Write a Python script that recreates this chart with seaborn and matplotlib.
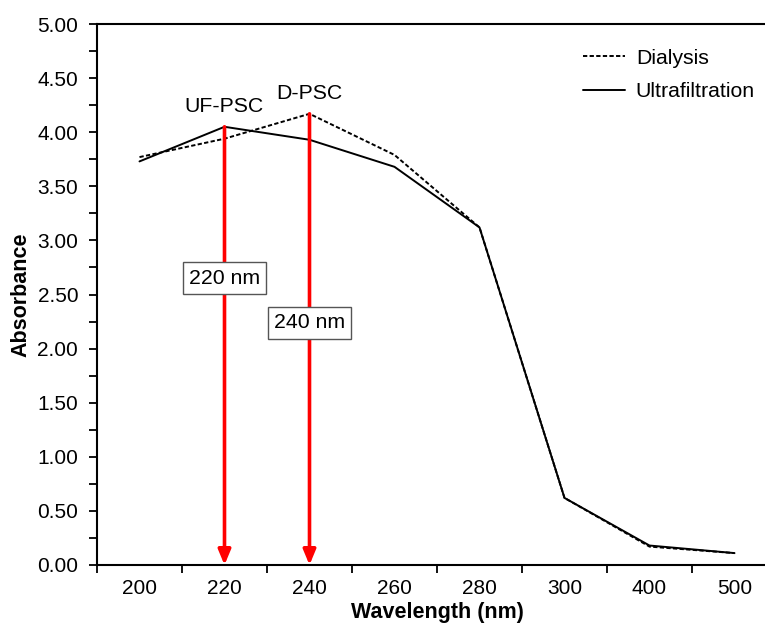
import pandas as pd
import matplotlib.pyplot as plt
import seaborn as sns

# wavelength categories (evenly spaced category axis) and absorbance per method
wavelengths = ["200", "220", "240", "260", "280", "300", "400", "500"]
dialysis = [3.77, 3.94, 4.17, 3.79, 3.12, 0.62, 0.17, 0.11]
ultrafiltration = [3.73, 4.05, 3.93, 3.68, 3.12, 0.62, 0.18, 0.11]

# peak markers: label, wavelength, box text, box height
peaks = [("UF-PSC", "220", "220 nm", 2.65, ultrafiltration),
         ("D-PSC", "240", "240 nm", 2.24, dialysis)]

sns.set_style("ticks")
plt.rcParams['font.family'] = ['Liberation Sans', 'DejaVu Sans']
plt.rcParams['font.size'] = 15
plt.rcParams.update({'text.color': 'black', 'axes.labelcolor': 'black',
                     'xtick.color': 'black', 'ytick.color': 'black'})

pos = list(range(len(wavelengths)))
df = pd.DataFrame({
    'pos': pos * 2,
    'Absorbance': dialysis + ultrafiltration,
    'Method': ['Dialysis'] * len(pos) + ['Ultrafiltration'] * len(pos),
})

fig = plt.figure(figsize=(7.65, 6.28), dpi=100)
ax = fig.add_axes([97 / 765, 63 / 628, 680 / 765, 541 / 628])

sns.lineplot(data=df, x='pos', y='Absorbance', hue='Method', style='Method',
             palette={'Dialysis': 'black', 'Ultrafiltration': 'black'},
             dashes={'Dialysis': (2.2, 1.2), 'Ultrafiltration': ''},
             linewidth=1.4, ax=ax)

# red arrows pointing at the peak wavelengths
for name, wl, box, ybox, series in peaks:
    i = wavelengths.index(wl)
    top = series[i]
    ax.annotate('', xy=(i, 0.0), xytext=(i, top),
                arrowprops=dict(arrowstyle='-|>,head_width=0.25,head_length=0.6',
                                color='#ff0000', lw=2.6, shrinkA=0, shrinkB=0))
    ax.text(i, top + 0.1, name, ha='center', va='bottom', fontsize=15.3)
    ax.text(i, ybox, box, ha='center', va='center', fontsize=15.3,
            bbox=dict(boxstyle='square,pad=0.3', facecolor='white',
                      edgecolor='#555555', linewidth=1))

ax.set_xlim(-0.5, len(wavelengths) - 0.5)
ax.set_ylim(0, 5)
ax.set_xticks([p - 0.5 for p in pos] + [len(pos) - 0.5])
ax.set_xticklabels([])
ax.set_xticks(pos, minor=True)
ax.set_xticklabels(wavelengths, minor=True)
ax.tick_params(axis='x', which='minor', length=0, pad=10)
ax.tick_params(axis='x', which='major', length=6, width=1.3, direction='out')
ax.set_yticks([i * 0.5 for i in range(11)])
ax.set_yticklabels([f"{i * 0.5:.2f}" for i in range(11)])
ax.set_yticks([i * 0.25 for i in range(21)], minor=True)
ax.tick_params(axis='y', which='both', length=6, width=1.3, direction='out', pad=7.5)

for s in ax.spines.values():
    s.set_linewidth(1.5)
    s.set_color('black')

ax.set_xlabel('Wavelength (nm)', fontweight='bold', fontsize=15.5, labelpad=3)
ax.set_ylabel('Absorbance', fontweight='bold', fontsize=15.5, labelpad=4)

handles, labels = ax.get_legend_handles_labels()
ax.legend(handles, labels, frameon=False, loc='upper right',
          bbox_to_anchor=(0.98, 0.97), borderaxespad=0, handlelength=2.0,
          handletextpad=0.5, labelspacing=0.68, fontsize=15.3)

fig.savefig('out.png', dpi=100)
